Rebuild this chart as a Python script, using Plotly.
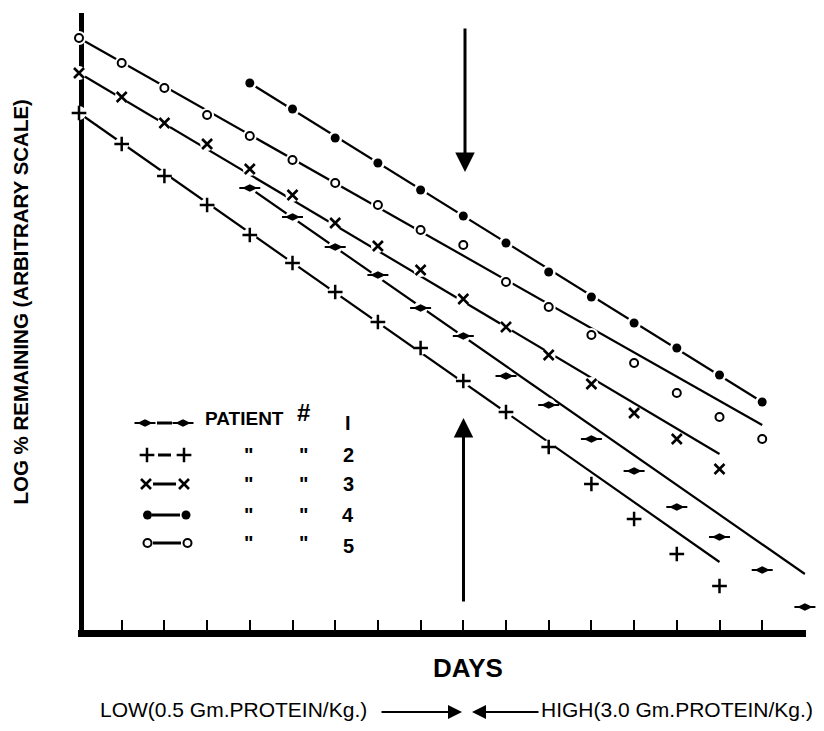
import plotly.graph_objects as go

# The page body has an 8px margin; the figure is sized so the page never scrolls,
# and all reference pixel positions are shifted by OFF.
REF_W, REF_H = 824, 731
OFF = 8
W, H = REF_W - 2 * OFF, REF_H - 2 * OFF

# ---------------- data (arbitrary log-scale units) ----------------
days1 = [4, 5, 6, 7, 8, 9, 10, 11, 12, 13, 14, 15, 16, 17]
vals1 = [44.5, 41.6, 38.6, 35.8, 32.5, 29.7, 25.7, 22.8, 19.4, 16.2, 12.6, 9.6, 6.3, 2.6]
fit1_days = [4, 17]
fit1_vals = [44.5, 5.9]

days2 = [0, 1, 2, 3, 4, 5, 6, 7, 8, 9, 10, 11, 12, 13, 14, 15]
vals2 = [52.0, 48.9, 45.7, 42.8, 39.8, 37.0, 34.1, 31.1, 28.5, 25.2, 22.1, 18.6, 14.9, 11.4, 7.9, 4.7]
fit2_days = [0, 15]
fit2_vals = [52.0, 7.1]

days3 = [0, 1, 2, 3, 4, 5, 6, 7, 8, 9, 10, 11, 12, 13, 14, 15]
vals3 = [56.0, 53.6, 51.0, 48.9, 46.4, 43.8, 41.0, 38.7, 36.3, 33.4, 30.6, 27.8, 24.9, 22.0, 19.4, 16.4]
fit3_days = [0, 15]
fit3_vals = [56.0, 17.9]

days4 = [4, 5, 6, 7, 8, 9, 10, 11, 12, 13, 14, 15, 16]
vals4 = [55.0, 52.4, 49.5, 47.0, 44.3, 41.7, 39.0, 36.1, 33.6, 31.0, 28.5, 25.8, 23.1]
fit4_days = [4, 16]
fit4_vals = [55.0, 23.1]

days5 = [0, 1, 2, 3, 4, 5, 6, 7, 8, 9, 10, 11, 12, 13, 14, 15, 16]
vals5 = [59.5, 57.0, 54.5, 51.8, 49.7, 47.3, 45.0, 42.8, 40.3, 38.8, 35.1, 32.6, 29.8, 27.0, 24.0, 21.6, 19.4]
fit5_days = [0, 16]
fit5_vals = [59.5, 20.8]

patients = ["1", "2", "3", "4", "5"]
patient_labels = ["I", "2", "3", "4", "5"]

# ---------------- geometry helpers (reference pixel space) ----------------
X0PX, XSTEP = 79.0, 42.7       # pixel of day 0 and pixels per day
Y0PX, YSTEP = 633.0, 10.0      # pixel of value 0 and pixels per unit

def dx(px):
    return (px - X0PX) / XSTEP

def dy(py):
    return (Y0PX - py) / YSTEP

def pxx(px):
    return (px - OFF) / W

def pxy(py):
    return 1 - (py - OFF) / H

FONT = "Liberation Sans, Arial, sans-serif"

styles = {
    "1": [dict(symbol="diamond-wide", size=11, color="black", line=dict(width=0)),
          dict(symbol="line-ew-open", size=15, color="black", line=dict(width=2, color="black"))],
    "2": [dict(symbol="cross-thin-open", size=10.5, color="black", line=dict(width=2.5, color="black"))],
    "3": [dict(symbol="x-thin-open", size=10, color="black", line=dict(width=2.6, color="black"))],
    "4": [dict(symbol="circle", size=9, color="black", line=dict(width=0))],
    "5": [dict(symbol="circle-open", size=8, color="black", line=dict(width=2, color="black"))],
}

series = {
    "1": (days1, vals1, fit1_days, fit1_vals),
    "2": (days2, vals2, fit2_days, fit2_vals),
    "3": (days3, vals3, fit3_days, fit3_vals),
    "4": (days4, vals4, fit4_days, fit4_vals),
    "5": (days5, vals5, fit5_days, fit5_vals),
}

fig = go.Figure()

# fitted lines
for p in patients:
    d, v, fd, fv = series[p]
    fig.add_trace(go.Scatter(x=fd, y=fv, mode="lines",
                             line=dict(color="black", width=2.2),
                             hoverinfo="skip", cliponaxis=False))

# white halos so lines break around the points
for p in patients:
    d, v, fd, fv = series[p]
    fig.add_trace(go.Scatter(x=d, y=v, mode="markers",
                             marker=dict(symbol="circle", size=14, color="white", line=dict(width=0)),
                             hoverinfo="skip", cliponaxis=False))

# data points
for p in patients:
    d, v, fd, fv = series[p]
    for st in styles[p]:
        fig.add_trace(go.Scatter(x=d, y=v, mode="markers", marker=st,
                                 name="Patient " + p, cliponaxis=False))

# ---------------- hand-drawn key ----------------
key_rows = {
    "1": dict(y=423, m=(145, 183), seg=(157, 172)),
    "2": dict(y=455, m=(147, 184), seg=(158, 171)),
    "3": dict(y=484, m=(146, 184), seg=(153, 176)),
    "4": dict(y=515, m=(147.5, 186), seg=(152, 180)),
    "5": dict(y=543, m=(147.5, 187.5), seg=(153, 181)),
}
for p in patients:
    r = key_rows[p]
    fig.add_trace(go.Scatter(x=[dx(r["seg"][0]), dx(r["seg"][1])], y=[dy(r["y"]), dy(r["y"])],
                             mode="lines", line=dict(color="black", width=3),
                             hoverinfo="skip", cliponaxis=False))
    for st in styles[p]:
        fig.add_trace(go.Scatter(x=[dx(r["m"][0]), dx(r["m"][1])], y=[dy(r["y"]), dy(r["y"])],
                                 mode="markers", marker=st, hoverinfo="skip", cliponaxis=False))

annotations = []

def txt(text, x, y, size, bold=False, xanchor="center", yanchor="middle", angle=0):
    annotations.append(dict(
        text=("<b>%s</b>" % text) if bold else text,
        x=pxx(x), y=pxy(y), xref="paper", yref="paper",
        xanchor=xanchor, yanchor=yanchor, showarrow=False, textangle=angle,
        font=dict(family=FONT, size=size, color="black")))

txt("PATIENT", 203, 418, 19, bold=True, xanchor="left")
txt("#", 303, 412, 24, bold=True)
for p, lab in zip(patients, patient_labels):
    r = key_rows[p]
    txt(lab, 348, r["y"] + (3 if p == "5" else 0), 20, bold=True)
    if p != "1":
        txt('"', 248, r["y"], 20, bold=True)
        txt('"', 303, r["y"], 20, bold=True)

txt("LOG % REMAINING (ARBITRARY SCALE)", 20.5, 302, 20.5, bold=True, angle=-90)
txt("DAYS", 467.5, 668, 26, bold=True)
txt("LOW(0.5 Gm.PROTEIN/Kg.)", 233, 722.5, 21, xanchor="center", yanchor="bottom")
txt("HIGH(3.0 Gm.PROTEIN/Kg.)", 815, 722.5, 21, xanchor="right", yanchor="bottom")

def arrow(tipx, tipy, tailx, taily, width, size):
    annotations.append(dict(
        text="", x=pxx(tipx), y=pxy(tipy), xref="paper", yref="paper",
        ax=tailx - tipx, ay=taily - tipy, axref="pixel", ayref="pixel",
        showarrow=True, arrowhead=2, arrowsize=size, arrowwidth=width,
        arrowcolor="black", standoff=0, startstandoff=0))

arrow(465, 172, 465, 27, 3, 1.3)
arrow(463.5, 418, 463.5, 603, 3, 1.3)
arrow(462, 712, 380, 712, 2, 1.4)
arrow(472, 712, 540, 712, 2, 1.4)

# ---------------- axes ----------------
LW_Y, LW_X = 5, 7
y_line_center = 80.8
left_edge = 78.3
bottom_edge = 633 - LW_X / 2
xmax = 17.02
right_edge = X0PX + XSTEP * xmax
top_edge = 13

fig.update_layout(
    width=W, height=H,
    margin=dict(l=0, r=0, t=0, b=0),
    paper_bgcolor="white", plot_bgcolor="white",
    showlegend=False,
    annotations=annotations,
    xaxis=dict(domain=[pxx(left_edge), pxx(right_edge)],
               range=[dx(left_edge), xmax],
               showgrid=False, zeroline=False, showticklabels=False,
               ticks="inside", ticklen=10, tickwidth=2, tickcolor="black",
               tick0=0, dtick=1, showline=True, linewidth=LW_X, linecolor="black",
               layer="below traces", fixedrange=True),
    yaxis=dict(domain=[pxy(bottom_edge), pxy(top_edge)],
               range=[dy(bottom_edge), dy(top_edge)],
               anchor="free", position=pxx(y_line_center),
               showgrid=False, zeroline=False, showticklabels=False, ticks="",
               showline=True, linewidth=LW_Y, linecolor="black",
               layer="below traces", fixedrange=True),
)

fig.write_html("out.html")
